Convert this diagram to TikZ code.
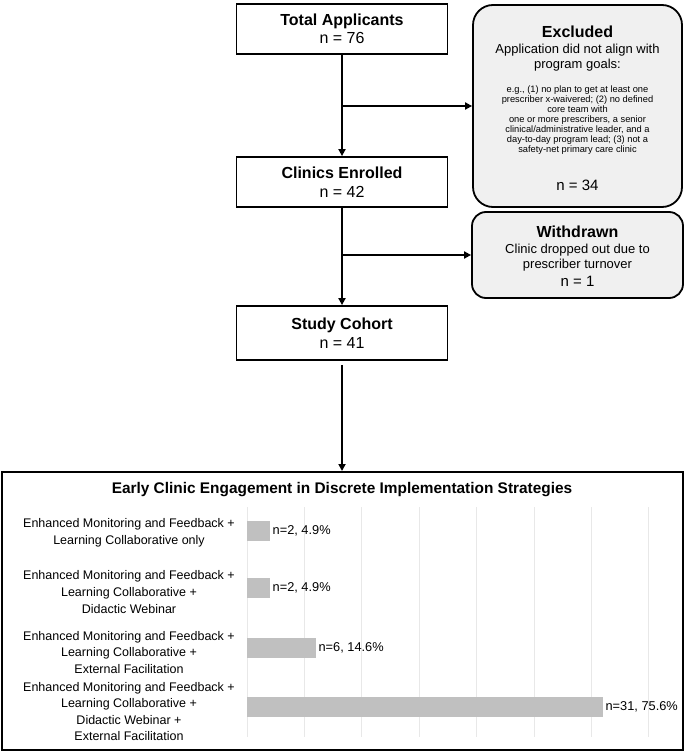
\documentclass[tikz,border=0pt]{standalone}
\usepackage{fontspec}
\setmainfont{Liberation Sans}
\usetikzlibrary{arrows.meta,positioning}
\definecolor{boxgray}{HTML}{F0F0F0}
\definecolor{bargray}{HTML}{C0C0C0}
\definecolor{gridgray}{HTML}{E8E8E8}

\begin{document}
\begin{tikzpicture}[x=1pt,y=1pt]
\tikzstyle{every node}+=[inner sep=0pt]
\tikzstyle{flowbox}=[draw=black,line width=1.8pt,minimum width=211pt,minimum height=50pt,align=center,font=\fontsize{16}{18.5}\selectfont]
\tikzstyle{sidebox}=[draw=black,line width=1.8pt,fill=boxgray]
\tikzstyle{sidehead}=[font=\bfseries\fontsize{16}{18}\selectfont]
\tikzstyle{sidetext}=[align=center,font=\fontsize{13}{14.8}\selectfont]
\tikzstyle{sidecount}=[font=\fontsize{15}{17}\selectfont]
\tikzstyle{flow}=[line width=1.8pt,-{Triangle[length=7pt,width=7pt]}]
\tikzstyle{stratlabel}=[align=center,font=\fontsize{12.5}{16.6}\selectfont]
\tikzstyle{barval}=[anchor=west,font=\fontsize{12.8}{14}\selectfont]
\useasboundingbox (0,0) rectangle (685,-754);
    % flow boxes
    \node[flowbox] (total) at (342,-29) {\textbf{Total Applicants}\\n = 76};
    \node[flowbox] (clinics) at (342,-182) {\textbf{Clinics Enrolled}\\n = 42};
    \node[flowbox,minimum height=54pt] (study) at (342,-333) {\textbf{Study Cohort}\\n = 41};
    % side boxes
    \node[sidebox,rounded corners=20pt,minimum width=209pt,minimum height=202pt] (excluded) at (577.5,-106) {};
    \node[sidehead] (exclhead) at (577.5,-32) {Excluded};
    \node[sidetext] (exclwhy) at (577.5,-57.5) {Application did not align with\\program goals:};
    \node[sidetext,font=\fontsize{9.3}{10}\selectfont] (exclegs) at (577.5,-120) {e.g., (1) no plan to get at least one\\prescriber x-waivered; (2) no defined\\core team with\\one or more prescribers, a senior\\clinical/administrative leader, and a\\day-to-day program lead; (3) not a\\safety-net primary care clinic};
    \node[sidecount] (excln) at (577.5,-185) {n = 34};
    \node[sidebox,rounded corners=14pt,minimum width=211pt,minimum height=86pt] (withdrawn) at (577.5,-255) {};
    \node[sidehead] (wdhead) at (577.5,-232) {Withdrawn};
    \node[sidetext,font=\fontsize{13}{15}\selectfont] (wdwhy) at (577.5,-258) {Clinic dropped out due to\\prescriber turnover};
    \node[sidecount] (wdn) at (577.5,-281) {n = 1};
    % connectors
    \coordinate (split1) at (total.south |- excluded.west);
    \coordinate (split2) at (clinics.south |- withdrawn.west);
    \draw[flow] (total) -- (clinics);
    \draw[flow] (split1) -- (excluded.west);
    \draw[flow] (clinics) -- (study);
    \draw[flow] (split2) -- (withdrawn.west);
    % chart panel
    \node[draw=black,line width=2pt,minimum width=681pt,minimum height=278pt] (chart) at (342.5,-611) {};
    \draw[flow,shorten <=4pt] (study.south) -- (study.south |- chart.north);
    \node[font=\bfseries\fontsize{15.4}{17}\selectfont] (charttitle) at (342,-490) {Early Clinic Engagement in Discrete Implementation Strategies};
    \foreach \k in {0,...,7}
        \draw[gridgray,line width=0.8pt] ({247+57.4*\k},-507) -- ({247+57.4*\k},-737);
    \node[stratlabel] (strat1) at (129,-532.5) {Enhanced Monitoring and Feedback +\\Learning Collaborative only};
    \node[stratlabel] (strat2) at (129,-592) {Enhanced Monitoring and Feedback +\\Learning Collaborative +\\Didactic Webinar};
    \node[stratlabel] (strat3) at (129,-652.5) {Enhanced Monitoring and Feedback +\\Learning Collaborative +\\External Facilitation};
    \node[stratlabel] (strat4) at (129,-711.5) {Enhanced Monitoring and Feedback +\\Learning Collaborative +\\Didactic Webinar +\\External Facilitation};
    \foreach \i/\n/\yc/\lab in {1/2/531/{n=2, 4.9\%},2/2/588/{n=2, 4.9\%},3/6/648/{n=6, 14.6\%},4/31/707/{n=31, 75.6\%}}{
        \fill[bargray] (247,{-\yc+10}) rectangle ({247+11.48*\n},{-\yc-10});
        \node[barval] (val\i) at ({249.5+11.48*\n},-\yc) {\lab};
    }
\end{tikzpicture}
\end{document}
